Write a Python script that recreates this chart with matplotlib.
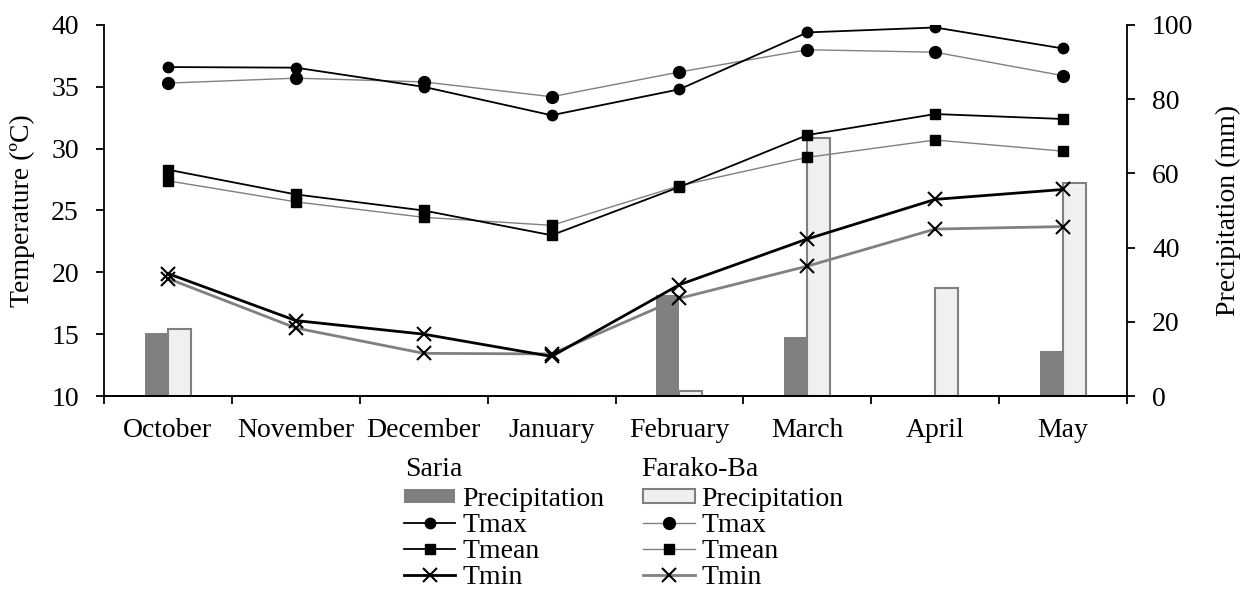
import matplotlib
matplotlib.use("Agg")
import matplotlib.pyplot as plt
from matplotlib.patches import Patch
from matplotlib.lines import Line2D
import numpy as np

plt.rcParams['font.family'] = ['Liberation Serif', 'DejaVu Serif']
plt.rcParams['font.size'] = 20

months = ['October', 'November', 'December', 'January', 'February', 'March', 'April', 'May']

# Saria
saria_tmax = [36.6, 36.55, 35.0, 32.7, 34.8, 39.4, 39.8, 38.1]
saria_tmean = [28.3, 26.3, 25.0, 23.0, 26.9, 31.1, 32.8, 32.4]
saria_tmin = [19.9, 16.1, 15.0, 13.2, 19.0, 22.7, 25.9, 26.7]
saria_prec = [17.1, 0, 0, 0, 27.3, 15.8, 0, 12.2]

# Farako-Ba
farako_tmax = [35.3, 35.7, 35.4, 34.2, 36.2, 38.0, 37.8, 35.9]
farako_tmean = [27.4, 25.7, 24.45, 23.8, 27.0, 29.3, 30.7, 29.8]
farako_tmin = [19.5, 15.5, 13.45, 13.4, 17.9, 20.5, 23.5, 23.7]
farako_prec = [18.0, 0, 0, 0, 1.4, 69.6, 29.2, 57.4]

dark = '#808080'
light = '#f0f0f0'

fig = plt.figure(figsize=(12.44, 5.89), dpi=100)
ax = fig.add_axes([104 / 1244, 1 - 396 / 589, 1023 / 1244, 371 / 589])
ax2 = ax.twinx()

x = np.arange(len(months))
w = 0.18

# precipitation bars on the secondary axis, kept behind the temperature lines
ax2.bar(x - w / 2, saria_prec, width=w, color=dark, edgecolor=dark, linewidth=0)
ax2.bar(x + w / 2, farako_prec, width=w, color=light, edgecolor=dark, linewidth=1.5)
ax2.set_ylim(0, 100)
ax2.set_yticks([0, 20, 40, 60, 80, 100])
ax2.set_ylabel('Precipitation (mm)', labelpad=16)

ax.set_zorder(ax2.get_zorder() + 1)
ax.patch.set_visible(False)

ax.plot(x, farako_tmax, color=dark, lw=1, marker='o', ms=8.5, mfc='black', mec='black')
ax.plot(x, saria_tmax, color='black', lw=1.3, marker='o', ms=7.5, mfc='black', mec='black')
ax.plot(x, farako_tmean, color=dark, lw=1, marker='s', ms=6.5, mfc='black', mec='black')
ax.plot(x, saria_tmean, color='black', lw=1.3, marker='s', ms=6.5, mfc='black', mec='black')
ax.plot(x, farako_tmin, color=dark, lw=2, marker='x', ms=10, mew=1.5, mec='black')
ax.plot(x, saria_tmin, color='black', lw=2, marker='x', ms=10, mew=1.5, mec='black')

ax.set_xlim(-0.5, len(months) - 0.5)
ax.set_ylim(10, 40)
ax.set_yticks(range(10, 41, 5))
ax.set_ylabel('Temperature (ºC)', labelpad=12)
ax.set_xticks(x)
ax.set_xticklabels(months)
ax.set_xticks(np.arange(-0.5, len(months)), minor=True)
ax.tick_params(axis='x', which='major', length=0, pad=16)
ax.tick_params(axis='x', which='minor', length=6, width=1.3)
ax.tick_params(axis='y', length=6, width=1.3, pad=12)
ax2.tick_params(axis='y', length=6, width=1.3, pad=12)

for a in (ax, ax2):
    a.spines['top'].set_visible(False)
    for s in a.spines.values():
        s.set_linewidth(1.3)
ax.spines['right'].set_visible(False)
ax2.spines['left'].set_visible(False)

# two-column legend with site headers
fig.text(405 / 1244, 1 - 470 / 589, 'Saria', ha='left', va='center')
fig.text(641 / 1244, 1 - 470 / 589, 'Farako-Ba', ha='left', va='center')

handles = [
    Patch(facecolor=dark, edgecolor=dark, linewidth=0),
    Line2D([], [], color='black', lw=1.3, marker='o', ms=7.5, mfc='black', mec='black'),
    Line2D([], [], color='black', lw=1.3, marker='s', ms=6.5, mfc='black', mec='black'),
    Line2D([], [], color='black', lw=2, marker='x', ms=10, mew=1.5, mec='black'),
    Patch(facecolor=light, edgecolor=dark, linewidth=1.5),
    Line2D([], [], color=dark, lw=1, marker='o', ms=8.5, mfc='black', mec='black'),
    Line2D([], [], color=dark, lw=1, marker='s', ms=6.5, mfc='black', mec='black'),
    Line2D([], [], color=dark, lw=2, marker='x', ms=10, mew=1.5, mec='black'),
]
labels = ['Precipitation', 'Tmax', 'Tmean', 'Tmin'] * 2
fig.legend(handles, labels, ncol=2, frameon=False, loc='upper left',
           bbox_to_anchor=(404 / 1244, 1 - 487 / 589), handlelength=1.85,
           handleheight=0.4, handletextpad=0.25, labelspacing=0.03,
           columnspacing=1.4, borderpad=0, borderaxespad=0)

fig.savefig('out.png', dpi=100)
